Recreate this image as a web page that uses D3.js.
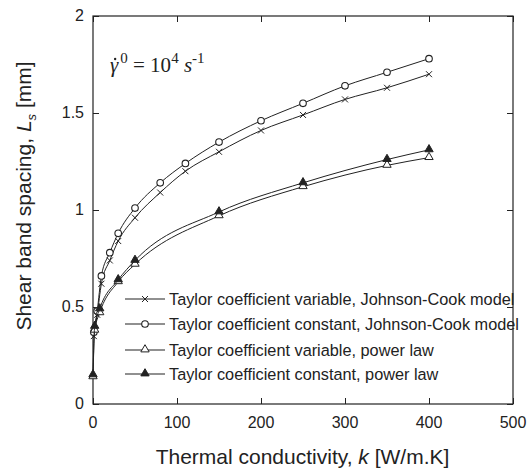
<!DOCTYPE html>
<html>
<head>
<meta charset="utf-8">
<script src="https://cdn.jsdelivr.net/npm/d3@7"></script>
<style>
  body { margin: 0; background: #fff; }
  text { font-family: "Liberation Sans", Arial, sans-serif; fill: #222; }
</style>
</head>
<body>
<svg id="chart" width="528" height="474"></svg>
<script>
// data
var kJC = [1, 5, 10, 20, 30, 50, 80, 110, 150, 200, 250, 300, 350, 400];
var jcVariable = [0.35, 0.46, 0.62, 0.74, 0.84, 0.96, 1.09, 1.20, 1.30, 1.41, 1.49, 1.57, 1.63, 1.70];
var jcConstant = [0.37, 0.48, 0.66, 0.78, 0.88, 1.01, 1.14, 1.24, 1.35, 1.46, 1.55, 1.64, 1.71, 1.78];

var kPL = [0, 2, 8, 30, 50, 150, 250, 350, 400];
var plVariable = [0.14, 0.38, 0.47, 0.63, 0.72, 0.97, 1.12, 1.23, 1.27];
var plConstant = [0.15, 0.40, 0.49, 0.64, 0.74, 0.99, 1.14, 1.26, 1.31];

var xTicks = [0, 100, 200, 300, 400, 500];
var yTicks = [0, 0.5, 1, 1.5, 2];

var seriesNames = [
  "Taylor coefficient variable, Johnson-Cook model",
  "Taylor coefficient constant, Johnson-Cook model",
  "Taylor coefficient variable, power law",
  "Taylor coefficient constant, power law"
];

var series = [
  {name: seriesNames[0], k: kJC, v: jcVariable, marker: "cross"},
  {name: seriesNames[1], k: kJC, v: jcConstant, marker: "circle"},
  {name: seriesNames[2], k: kPL, v: plVariable, marker: "triOpen"},
  {name: seriesNames[3], k: kPL, v: plConstant, marker: "triFilled"}
];

var svg = d3.select("#chart");
var mLeft = 93, mRight = 513, mTop = 16, mBottom = 404;

var x = d3.scaleLinear().domain([0, 500]).range([mLeft, mRight]);
var y = d3.scaleLinear().domain([0, 2]).range([mBottom, mTop]);

var ink = "#222";

// frame
svg.append("rect")
  .attr("x", mLeft).attr("y", mTop)
  .attr("width", mRight - mLeft).attr("height", mBottom - mTop)
  .attr("fill", "none").attr("stroke", ink).attr("stroke-width", 1.2);

// axes, ticks pointing inward on all four sides
var fmtY = function(d) { return d % 1 === 0 ? d : d3.format(".1f")(d); };

svg.append("g")
  .attr("transform", "translate(0," + mBottom + ")")
  .call(d3.axisTop(x).tickValues(xTicks).tickSize(6).tickFormat(""))
  .call(g => g.select(".domain").remove());
svg.append("g")
  .attr("transform", "translate(0," + mTop + ")")
  .call(d3.axisBottom(x).tickValues(xTicks).tickSize(6).tickFormat(""))
  .call(g => g.select(".domain").remove());
svg.append("g")
  .attr("transform", "translate(" + mLeft + ",0)")
  .call(d3.axisRight(y).tickValues(yTicks).tickSize(6).tickFormat(""))
  .call(g => g.select(".domain").remove());
svg.append("g")
  .attr("transform", "translate(" + mRight + ",0)")
  .call(d3.axisLeft(y).tickValues(yTicks).tickSize(6).tickFormat(""))
  .call(g => g.select(".domain").remove());
svg.selectAll(".tick line").attr("stroke", ink);

// tick labels
svg.selectAll(".xlab")
  .data(xTicks)
  .enter().append("text")
  .attr("x", d => x(d)).attr("y", mBottom + 24)
  .attr("text-anchor", "middle")
  .style("font-size", "16px")
  .text(d => d);

svg.selectAll(".ylab")
  .data(yTicks)
  .enter().append("text")
  .attr("x", mLeft - 9).attr("y", d => y(d) + 5)
  .attr("text-anchor", "end")
  .style("font-size", "16px")
  .text(fmtY);

// axis titles
var xt = svg.append("text")
  .attr("x", 302.5).attr("y", 464)
  .attr("text-anchor", "middle")
  .style("font-size", "21px");
xt.append("tspan").text("Thermal conductivity, ");
xt.append("tspan").style("font-style", "italic").text("k");
xt.append("tspan").text(" [W/m.K]");

var yt = svg.append("text")
  .attr("transform", "translate(31,196) rotate(-90)")
  .attr("text-anchor", "middle")
  .style("font-size", "21px");
yt.append("tspan").text("Shear band spacing, ");
yt.append("tspan").style("font-style", "italic").text("L");
yt.append("tspan").style("font-style", "italic").style("font-size", "13px").attr("dy", 5).text("s");
yt.append("tspan").attr("dy", -5).text(" [mm]");

// annotation: gamma-dot^0 = 10^4 s^-1
var ann = svg.append("text")
  .attr("x", 110).attr("y", 72)
  .style("font-family", "'Liberation Serif', 'DejaVu Serif', serif")
  .style("font-size", "21px");
ann.append("tspan").style("font-style", "italic").text("\u03B3");
ann.append("tspan").attr("dy", -9).attr("dx", 2).style("font-size", "15px").text("0");
ann.append("tspan").attr("dy", 9).text(" = 10");
ann.append("tspan").attr("dy", -9).style("font-size", "15px").text("4");
ann.append("tspan").attr("dy", 9).style("font-style", "italic").text(" s");
ann.append("tspan").attr("dy", -9).style("font-size", "15px").text("-1");
var gbox = ann.node().getExtentOfChar(0);
svg.append("circle")
  .attr("cx", gbox.x + gbox.width * 0.62)
  .attr("cy", 72 - 13)
  .attr("r", 1.2)
  .attr("fill", ink);

// markers
function drawMarker(g, type, cx, cy) {
  if (type === "cross") {
    g.append("path")
      .attr("d", "M" + (cx - 3) + "," + (cy - 3) + "L" + (cx + 3) + "," + (cy + 3) +
                 "M" + (cx - 3) + "," + (cy + 3) + "L" + (cx + 3) + "," + (cy - 3))
      .attr("stroke", ink).attr("stroke-width", 1).attr("fill", "none");
  } else if (type === "circle") {
    g.append("circle").attr("cx", cx).attr("cy", cy).attr("r", 3.3)
      .attr("fill", "#fff").attr("stroke", ink).attr("stroke-width", 1.1);
  } else {
    g.append("path")
      .attr("d", d3.symbol().type(d3.symbolTriangle).size(30)())
      .attr("transform", "translate(" + cx + "," + (cy - 0.5) + ")")
      .attr("fill", type === "triFilled" ? ink : "#fff")
      .attr("stroke", ink).attr("stroke-width", 1);
  }
}

var line = d3.line()
  .x(d => x(d[0])).y(d => y(d[1]))
  .curve(d3.curveMonotoneX);

series.forEach(function(s) {
  var pts = s.k.map((k, i) => [k, s.v[i]]);
  svg.append("path")
    .datum(pts)
    .attr("d", line)
    .attr("fill", "none")
    .attr("stroke", ink)
    .attr("stroke-width", 1);
  var g = svg.append("g");
  pts.forEach(p => drawMarker(g, s.marker, x(p[0]), y(p[1])));
});

// legend
var legY = [299, 324, 350, 374];
series.forEach(function(s, i) {
  var g = svg.append("g");
  g.append("line")
    .attr("x1", 125).attr("x2", 165)
    .attr("y1", legY[i]).attr("y2", legY[i])
    .attr("stroke", ink).attr("stroke-width", 1.2);
  drawMarker(g, s.marker, 145, legY[i]);
  g.append("text")
    .attr("x", 169).attr("y", legY[i] + 6)
    .style("font-size", "16.3px")
    .text(s.name);
});
</script>
</body>
</html>
